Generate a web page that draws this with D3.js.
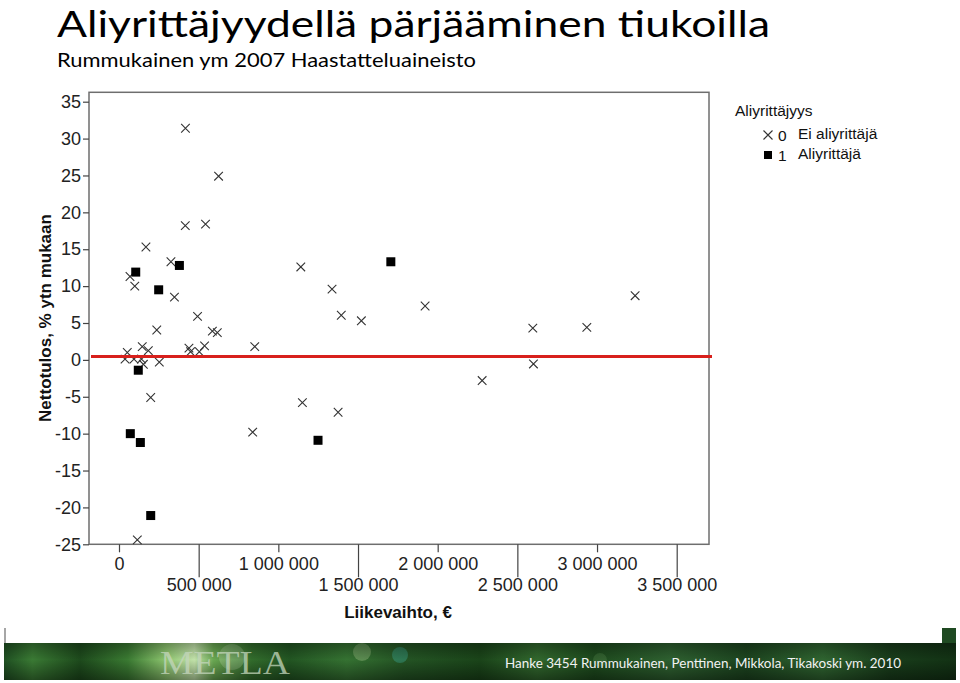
<!DOCTYPE html>
<html>
<head>
<meta charset="utf-8">
<script src="https://cdn.jsdelivr.net/npm/d3@7"></script>
<style>
  html, body { margin: 0; padding: 0; background: #fff; }
  svg { display: block; }
</style>
</head>
<body>
<svg id="chart" width="960" height="683"></svg>
<script>
// ---- Data ----
const titleText = "Aliyrittäjyydellä pärjääminen tiukoilla";
const subtitleText = "Rummukainen ym 2007 Haastatteluaineisto";
const footerText = "Hanke 3454 Rummukainen, Penttinen, Mikkola, Tikakoski ym. 2010";
const xTitle = "Liikevaihto, €";
const yTitle = "Nettotulos, % ytn mukaan";
const legendTitle = "Aliyrittäjyys";
const legendCodes = ["0", "1"];
const legendLabels = ["Ei aliyrittäjä", "Aliyrittäjä"];

// Group 0 (Ei aliyrittäjä) – crosses
const crossX = [417000, 625000, 416000, 543000, 169000, 326000, 69000, 99000, 348000, 493000,
                237000, 586000, 617000, 52000, 146000, 184000, 38000, 94000, 141000, 153000,
                253000, 439000, 449000, 504000, 537000, 199000, 115000, 852000, 1141000, 1337000,
                1395000, 1521000, 1921000, 2279000, 1151000, 1375000, 839000, 3239000, 2597000, 2936000,
                2601000];
const crossY = [31.4, 24.9, 18.2, 18.4, 15.3, 13.3, 11.3, 10.0, 8.5, 5.9,
                4.05, 3.9, 3.7, 1.0, 1.8, 1.25, 0.1, 0.1, 0.1, -0.6,
                -0.3, 1.6, 1.1, 1.1, 1.9, -5.1, -24.4, 1.8, 12.6, 9.6,
                6.05, 5.3, 7.3, -2.8, -5.8, -7.1, -9.8, 8.7, 4.3, 4.4,
                -0.55];

// Group 1 (Aliyrittäjä) – filled squares
const squareX = [105000, 379000, 249000, 121000, 71000, 134000, 199000, 1706000, 1249000];
const squareY = [11.9, 12.8, 9.5, -1.4, -10.0, -11.2, -21.1, 13.3, -10.9];

const meanLine = 0.45;

const xTicks = [0, 500000, 1000000, 1500000, 2000000, 2500000, 3000000, 3500000];
const xTickLabels = ["0", "500 000", "1 000 000", "1 500 000", "2 000 000", "2 500 000", "3 000 000", "3 500 000"];
const yTicks = [-25, -20, -15, -10, -5, 0, 5, 10, 15, 20, 25, 30, 35];
const yTickLabels = ["-25", "-20", "-15", "-10", "-5", "0", "5", "10", "15", "20", "25", "30", "35"];

// ---- Layout ----
const svg = d3.select("#chart");
const frame = { left: 89, right: 709, top: 92.3, bottom: 544.3 };
const x = d3.scaleLinear().domain([0, 3500000]).range([119, 676.7]);
const y = d3.scaleLinear().domain([-25, 35]).range([544.3, 101.7]);
const axisFont = "'Liberation Sans', Arial, sans-serif";

// Titles
svg.append("text").attr("x", 57).attr("y", 37)
  .attr("font-family", "Lato, 'Open Sans', sans-serif")
  .attr("font-size", 37).attr("fill", "#000")
  .attr("textLength", 713).attr("lengthAdjust", "spacingAndGlyphs")
  .text(titleText);
svg.append("text").attr("x", 57).attr("y", 67)
  .attr("font-family", "Lato, 'Open Sans', sans-serif")
  .attr("font-size", 19).attr("fill", "#000")
  .attr("textLength", 419).attr("lengthAdjust", "spacingAndGlyphs")
  .text(subtitleText);

// Frame
svg.append("rect")
  .attr("x", frame.left).attr("y", frame.top)
  .attr("width", frame.right - frame.left).attr("height", frame.bottom - frame.top)
  .attr("fill", "none").attr("stroke", "#6e6e6e").attr("stroke-width", 1.5);

// Y axis
const yAxis = svg.append("g")
  .attr("transform", `translate(${frame.left},0)`)
  .call(d3.axisLeft(y).tickValues(yTicks).tickSize(6).tickPadding(2)
    .tickFormat((d, i) => yTickLabels[i]));
yAxis.select(".domain").remove();
yAxis.selectAll(".tick line").attr("stroke", "#444").attr("stroke-width", 1.2);
yAxis.selectAll(".tick text").attr("font-family", axisFont).attr("font-size", 18).attr("fill", "#222");

// X axis (staggered labels)
const xAxis = svg.append("g")
  .attr("transform", `translate(0,${frame.bottom})`)
  .call(d3.axisBottom(x).tickValues(xTicks).tickSize(8).tickPadding(4)
    .tickFormat((d, i) => xTickLabels[i]));
xAxis.select(".domain").remove();
xAxis.selectAll(".tick line").attr("stroke", "#444").attr("stroke-width", 1.2)
  .attr("y2", (d, i) => i % 2 === 1 ? 33 : 8);
xAxis.selectAll(".tick text").attr("font-family", axisFont).attr("font-size", 18).attr("fill", "#222")
  .attr("y", (d, i) => i % 2 === 1 ? 34 : 13);

// Axis titles
svg.append("text").attr("x", 398).attr("y", 618).attr("text-anchor", "middle")
  .attr("font-family", axisFont).attr("font-weight", "bold").attr("font-size", 17).attr("fill", "#111")
  .text(xTitle);
svg.append("text").attr("transform", "translate(51,318) rotate(-90)").attr("text-anchor", "middle")
  .attr("font-family", axisFont).attr("font-weight", "bold").attr("font-size", 17).attr("fill", "#111")
  .text(yTitle);

// Crosses
const crossData = crossX.map((v, i) => ({ x: v, y: crossY[i] }));
const cs = 4.3;
svg.append("g").selectAll("path").data(crossData).join("path")
  .attr("d", d => {
    const cx = x(d.x), cy = y(d.y);
    return `M${cx - cs},${cy - cs}L${cx + cs},${cy + cs}M${cx - cs},${cy + cs}L${cx + cs},${cy - cs}`;
  })
  .attr("stroke", "#333").attr("stroke-width", 1.1).attr("fill", "none");

// Squares
const squareData = squareX.map((v, i) => ({ x: v, y: squareY[i] }));
const ss = 9;
svg.append("g").selectAll("rect").data(squareData).join("rect")
  .attr("x", d => x(d.x) - ss / 2).attr("y", d => y(d.y) - ss / 2)
  .attr("width", ss).attr("height", ss).attr("fill", "#000");

// Red reference line
svg.append("line")
  .attr("x1", frame.left + 2).attr("x2", frame.right + 3)
  .attr("y1", y(meanLine)).attr("y2", y(meanLine))
  .attr("stroke", "#d8201c").attr("stroke-width", 3);

// Legend
const lg = svg.append("g").attr("font-family", axisFont).attr("fill", "#111");
lg.append("text").attr("x", 735).attr("y", 116).attr("font-size", 15.5).text(legendTitle);
lg.append("path").attr("d", `M${768 - 4.5},${135 - 4.5}L${768 + 4.5},${135 + 4.5}M${768 - 4.5},${135 + 4.5}L${768 + 4.5},${135 - 4.5}`)
  .attr("stroke", "#333").attr("stroke-width", 1.1).attr("fill", "none");
lg.append("rect").attr("x", 764).attr("y", 151).attr("width", 8).attr("height", 8).attr("fill", "#000");
lg.selectAll("text.code").data(legendCodes).join("text").attr("class", "code")
  .attr("x", 778).attr("y", (d, i) => 141 + i * 20).attr("font-size", 15.5).text(d => d);
lg.selectAll("text.lab").data(legendLabels).join("text").attr("class", "lab")
  .attr("x", 798).attr("y", (d, i) => 139 + i * 20).attr("font-size", 15.5).text(d => d);

// Footer banner
const defs = svg.append("defs");
const g1 = defs.append("linearGradient").attr("id", "band").attr("x1", "0").attr("x2", "1").attr("y1", "0").attr("y2", "0");
[[0, "#1f5022"], [0.03, "#3a7a34"], [0.08, "#1d4a1c"], [0.13, "#3a7a32"], [0.17, "#8cc46e"], [0.2, "#c2e2aa"],
 [0.22, "#6aa852"], [0.26, "#326c2c"], [0.3, "#225522"], [0.36, "#357232"], [0.42, "#245424"], [0.5, "#1a4419"],
 [0.56, "#31672d"], [0.62, "#1d4a1d"], [0.7, "#2e6030"], [0.78, "#1c441f"], [0.86, "#2f6430"], [0.93, "#193d1b"], [1, "#123214"]]
  .forEach(([o, c]) => g1.append("stop").attr("offset", o).attr("stop-color", c));
const g2 = defs.append("linearGradient").attr("id", "shade").attr("x1", "0").attr("x2", "0").attr("y1", "0").attr("y2", "1");
g2.append("stop").attr("offset", 0).attr("stop-color", "#000").attr("stop-opacity", 0.3);
g2.append("stop").attr("offset", 0.45).attr("stop-color", "#000").attr("stop-opacity", 0);
g2.append("stop").attr("offset", 1).attr("stop-color", "#000").attr("stop-opacity", 0.4);
defs.append("clipPath").attr("id", "bandClip").append("rect").attr("x", 4).attr("y", 643).attr("width", 952).attr("height", 37);

svg.append("line").attr("x1", 5).attr("x2", 5).attr("y1", 628).attr("y2", 643).attr("stroke", "#888").attr("stroke-width", 1.5);
svg.append("rect").attr("x", 942).attr("y", 628).attr("width", 14).attr("height", 16).attr("fill", "#1f4a22");

const band = svg.append("g").attr("clip-path", "url(#bandClip)");
band.append("rect").attr("x", 4).attr("y", 643).attr("width", 952).attr("height", 37).attr("fill", "url(#band)");
band.append("circle").attr("cx", 232).attr("cy", 657).attr("r", 13).attr("fill", "#cfe8c0").attr("opacity", 0.25);
band.append("circle").attr("cx", 362).attr("cy", 652).attr("r", 9).attr("fill", "#a8c890").attr("opacity", 0.35);
band.append("circle").attr("cx", 400).attr("cy", 655).attr("r", 8).attr("fill", "#3aa08a").attr("opacity", 0.45);
band.append("circle").attr("cx", 600).attr("cy", 660).attr("r", 7).attr("fill", "#6aa060").attr("opacity", 0.25);
band.append("rect").attr("x", 4).attr("y", 643).attr("width", 952).attr("height", 37).attr("fill", "url(#shade)");
svg.append("text").attr("x", 160).attr("y", 674)
  .attr("font-family", "'Liberation Serif', 'DejaVu Serif', serif").attr("font-size", 33)
  .attr("fill", "#c4d6bc").attr("opacity", 0.75).attr("textLength", 130).attr("lengthAdjust", "spacingAndGlyphs")
  .text("METLA");
svg.append("text").attr("x", 505).attr("y", 668)
  .attr("font-family", "Lato, 'Open Sans', sans-serif").attr("font-size", 14).attr("fill", "#f2f2f2")
  .attr("textLength", 396).attr("lengthAdjust", "spacingAndGlyphs")
  .text(footerText);
</script>
</body>
</html>
